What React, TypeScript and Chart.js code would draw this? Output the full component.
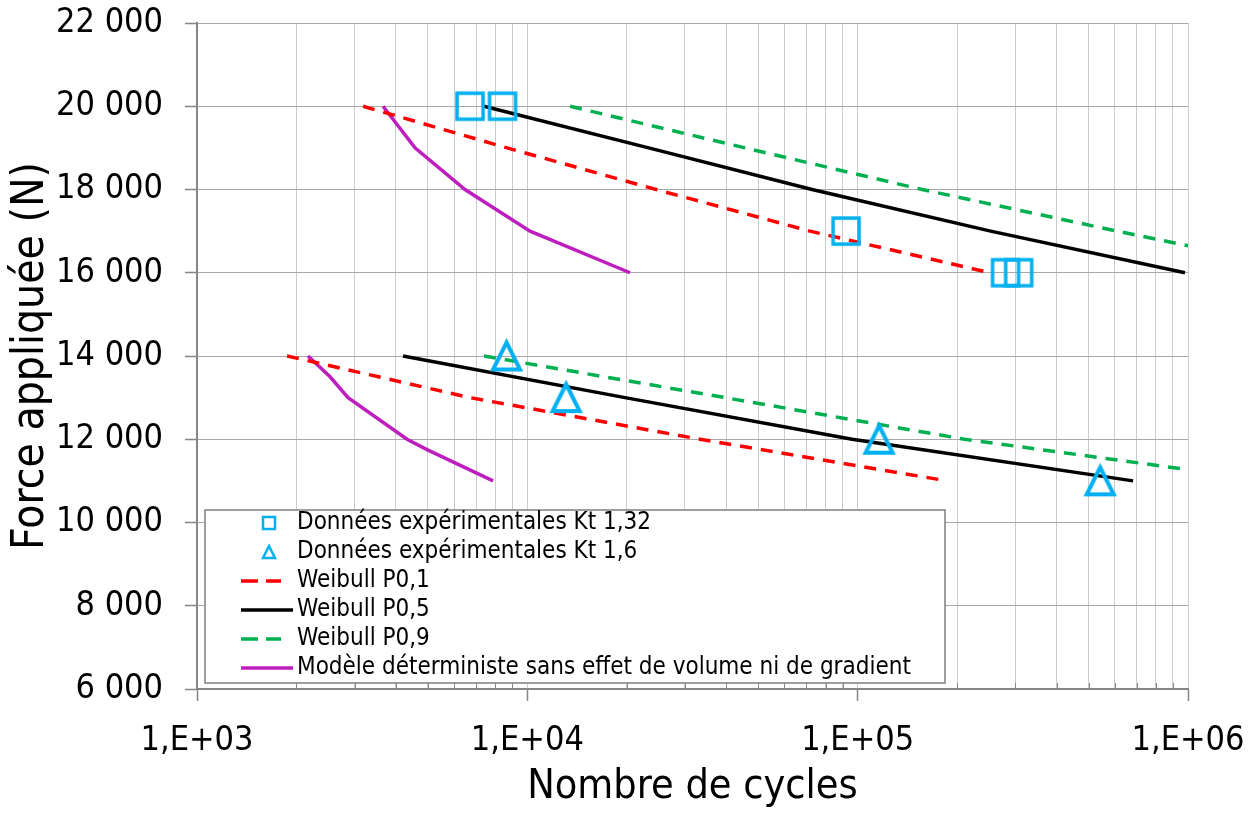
import { useEffect, useRef } from 'react';
import { Chart, registerables } from 'chart.js';

Chart.register(...registerables);

const FONT = '"DejaVu Sans Condensed", "DejaVu Sans", sans-serif';

// ---- Axis definitions ----
const xDecades = [1000, 10000, 100000, 1000000];
const xDecadeLabels = ['1,E+03', '1,E+04', '1,E+05', '1,E+06'];
const xMinorSteps = [1, 2, 3, 4, 5, 6, 7, 8, 9];
const yMin = 6000;
const yMax = 22000;
const yStep = 2000;

// ---- Experimental data ----
const kt132Cycles = [6707, 8414, 92230, 280300, 307100];
const kt132Force = [20000, 20000, 17000, 16000, 16000];
const kt16Cycles = [8650, 13100, 116100, 542000];
const kt16Force = [14000, 13000, 12000, 11000];

// ---- Weibull P0,1 ----
const p01UpperCycles = [3182, 8680, 24540, 71760, 251700];
const p01UpperForce = [20000, 19000, 18000, 17000, 16000];
const p01LowerCycles = [1873, 6706, 33340, 186500];
const p01LowerForce = [14000, 13000, 12000, 11000];

// ---- Weibull P0,5 ----
const p05UpperCycles = [7393, 23290, 72780, 252700, 979000];
const p05UpperForce = [20000, 19000, 18000, 17000, 16000];
const p05LowerCycles = [4204, 19760, 96200, 682000];
const p05LowerForce = [14000, 13000, 12000, 11000];

// ---- Weibull P0,9 ----
const p09UpperCycles = [13470, 45600, 156700, 610000, 1000000];
const p09UpperForce = [20000, 19000, 18000, 17000, 16650];
const p09LowerCycles = [7393, 39680, 210700, 1000000];
const p09LowerForce = [14000, 13000, 12000, 11270];

// ---- Deterministic model ----
const detUpperCycles = [3657, 4570, 6477, 10190, 20460];
const detUpperForce = [20000, 19000, 18000, 17000, 16000];
const detLowerCycles = [2168, 2528, 2866, 4323, 4970, 7875];
const detLowerForce = [14000, 13500, 13000, 12000, 11750, 11000];

const legendLabels = [
  'Données expérimentales Kt 1,32',
  'Données expérimentales Kt 1,6',
  'Weibull P0,1',
  'Weibull P0,5',
  'Weibull P0,9',
  'Modèle déterministe sans effet de volume ni de gradient',
];

const CYAN = '#00B0F0';
const RED = '#FF0000';
const BLACK = '#000000';
const GREEN = '#00B050';
const MAGENTA = '#BE1EBE';
const DASH = [12, 9];

const zip = (xs: number[], ys: number[]) => xs.map((x, i) => ({ x, y: ys[i] }));
const isDecade = (v: number) => xDecades.includes(v);
const formatThousands = (v: number) => String(v).replace(/\B(?=(\d{3})+(?!\d))/g, ' ');

function makeMarker(kind: 'square' | 'triangle', size: number, lw: number) {
  const c = document.createElement('canvas');
  const pad = Math.ceil(lw) + 2;
  c.width = size + pad * 2;
  c.height = size + pad * 2;
  const g = c.getContext('2d')!;
  g.strokeStyle = CYAN;
  g.lineWidth = lw;
  g.lineJoin = 'miter';
  if (kind === 'square') {
    g.strokeRect(pad, pad, size, size);
  } else {
    g.beginPath();
    g.moveTo(pad + size / 2, pad);
    g.lineTo(pad + size, pad + size);
    g.lineTo(pad, pad + size);
    g.closePath();
    g.stroke();
  }
  return c;
}

function lineDataset(label: string, xs: number[], ys: number[], color: string, dashed: boolean) {
  return {
    label,
    data: zip(xs, ys),
    showLine: true,
    borderColor: color,
    backgroundColor: color,
    borderWidth: 3.5,
    borderDash: dashed ? DASH : [],
    pointRadius: 0,
    pointHoverRadius: 0,
    tension: 0,
    fill: false,
  };
}

const legendPlugin = {
  id: 'boxLegend',
  afterDraw(chart: any) {
    const ctx = chart.ctx as CanvasRenderingContext2D;
    const { left, bottom } = chart.chartArea;
    const bx = left + 8;
    const by = bottom - 179;
    const bw = 740;
    const bh = 173;
    ctx.save();
    ctx.fillStyle = '#ffffff';
    ctx.fillRect(bx, by, bw, bh);
    ctx.strokeStyle = '#7f7f7f';
    ctx.lineWidth = 1.5;
    ctx.strokeRect(bx, by, bw, bh);

    const symX0 = bx + 36;
    const symX1 = bx + 88;
    const symCx = bx + 64;
    const textX = bx + 92;
    const rowY0 = by + 13;
    const rowStep = 29;
    const styles = [
      { kind: 'square' },
      { kind: 'triangle' },
      { kind: 'line', color: RED, dashed: true },
      { kind: 'line', color: BLACK, dashed: false },
      { kind: 'line', color: GREEN, dashed: true },
      { kind: 'line', color: MAGENTA, dashed: false },
    ];
    legendLabels.forEach((label, i) => {
      const y = rowY0 + i * rowStep;
      const st: any = styles[i];
      ctx.save();
      if (st.kind === 'square') {
        ctx.strokeStyle = CYAN;
        ctx.lineWidth = 2.5;
        ctx.strokeRect(symCx - 6, y - 6, 12, 12);
      } else if (st.kind === 'triangle') {
        ctx.strokeStyle = CYAN;
        ctx.lineWidth = 2.5;
        ctx.beginPath();
        ctx.moveTo(symCx, y - 6);
        ctx.lineTo(symCx + 6, y + 6);
        ctx.lineTo(symCx - 6, y + 6);
        ctx.closePath();
        ctx.stroke();
      } else {
        ctx.strokeStyle = st.color;
        ctx.lineWidth = 3.5;
        ctx.beginPath();
        if (st.dashed) {
          ctx.setLineDash([17, 8]);
          ctx.moveTo(symX0, y);
          ctx.lineTo(symX0 + 40, y);
        } else {
          ctx.moveTo(symX0, y);
          ctx.lineTo(symX1, y);
        }
        ctx.stroke();
      }
      ctx.restore();
      ctx.fillStyle = '#000000';
      ctx.font = `24px ${FONT}`;
      ctx.textBaseline = 'middle';
      ctx.textAlign = 'left';
      ctx.fillText(label, textX, y);
    });
    ctx.restore();
  },
};

const minorTickPlugin = {
  id: 'minorTicks',
  afterDatasetsDraw(chart: any) {
    const ctx = chart.ctx as CanvasRenderingContext2D;
    const xs = chart.scales.x;
    const b = chart.chartArea.bottom;
    ctx.save();
    ctx.strokeStyle = '#868686';
    ctx.lineWidth = 1;
    xs.ticks.forEach((t: any) => {
      if (isDecade(t.value)) return;
      const px = Math.round(xs.getPixelForValue(t.value)) + 0.5;
      ctx.beginPath();
      ctx.moveTo(px, b);
      ctx.lineTo(px, b - 6);
      ctx.stroke();
    });
    ctx.restore();
  },
};

export default function App() {
  const ref = useRef<HTMLCanvasElement | null>(null);

  useEffect(() => {
    if (!ref.current) return;
    const squareMarker = makeMarker('square', 26, 3.5);
    const triangleMarker = makeMarker('triangle', 27, 4);
    const xTickValues = xDecades.flatMap((d, i) =>
      i < xDecades.length - 1 ? xMinorSteps.map((m) => m * d) : [d]
    );

    const chart = new Chart(ref.current, {
      type: 'scatter',
      data: {
        datasets: [
          {
            label: legendLabels[0],
            data: zip(kt132Cycles, kt132Force),
            showLine: false,
            pointStyle: squareMarker as any,
            pointRadius: 14,
            borderColor: CYAN,
            backgroundColor: 'transparent',
          },
          {
            label: legendLabels[1],
            data: zip(kt16Cycles, kt16Force),
            showLine: false,
            pointStyle: triangleMarker as any,
            pointRadius: 14,
            borderColor: CYAN,
            backgroundColor: 'transparent',
          },
          lineDataset(legendLabels[2], p01UpperCycles, p01UpperForce, RED, true),
          lineDataset(legendLabels[2], p01LowerCycles, p01LowerForce, RED, true),
          lineDataset(legendLabels[3], p05UpperCycles, p05UpperForce, BLACK, false),
          lineDataset(legendLabels[3], p05LowerCycles, p05LowerForce, BLACK, false),
          lineDataset(legendLabels[4], p09UpperCycles, p09UpperForce, GREEN, true),
          lineDataset(legendLabels[4], p09LowerCycles, p09LowerForce, GREEN, true),
          lineDataset(legendLabels[5], detUpperCycles, detUpperForce, MAGENTA, false),
          lineDataset(legendLabels[5], detLowerCycles, detLowerForce, MAGENTA, false),
        ] as any,
      },
      options: {
        responsive: false,
        animation: false,
        events: [],
        layout: { padding: { left: 0, top: 23, right: 70, bottom: 0 } },
        plugins: {
          legend: { display: false },
          tooltip: { enabled: false },
        },
        scales: {
          x: {
            type: 'logarithmic',
            position: 'bottom',
            min: xDecades[0],
            max: xDecades[xDecades.length - 1],
            afterFit: (s: any) => {
              s.height = 124;
              s.paddingLeft = 0;
              s.paddingRight = 0;
            },
            afterBuildTicks: (s: any) => {
              s.ticks = xTickValues.map((v) => ({ value: v, major: isDecade(v) }));
            },
            ticks: {
              autoSkip: false,
              maxRotation: 0,
              minRotation: 0,
              padding: 20,
              color: '#000000',
              font: { family: FONT, size: 34 },
              callback: (v: any) => {
                const i = xDecades.indexOf(Number(v));
                return i >= 0 ? xDecadeLabels[i] : '';
              },
            },
            grid: {
              color: '#cccccc',
              lineWidth: 1,
              tickLength: 12,
              tickWidth: 1.5,
              tickColor: (c: any) => (c.tick && isDecade(c.tick.value) ? '#868686' : 'rgba(0,0,0,0)'),
            },
            border: { color: '#868686', width: 2 },
            title: {
              display: true,
              text: 'Nombre de cycles',
              color: '#000000',
              font: { family: FONT, size: 41 },
              padding: { top: 0, bottom: 1 },
            },
          },
          y: {
            type: 'linear',
            min: yMin,
            max: yMax,
            afterFit: (s: any) => {
              s.width = 197;
              s.paddingTop = 0;
              s.paddingBottom = 0;
            },
            ticks: {
              stepSize: yStep,
              padding: 22,
              color: '#000000',
              font: { family: FONT, size: 34 },
              callback: (v: any) => formatThousands(Number(v)),
            },
            grid: {
              color: '#a8a8a8',
              lineWidth: 1,
              tickLength: 12,
              tickWidth: 1.5,
              tickColor: '#868686',
            },
            border: { color: '#868686', width: 2 },
            title: {
              display: true,
              text: 'Force appliquée (N)',
              color: '#000000',
              font: { family: FONT, size: 44 },
              padding: { top: 5, bottom: 0 },
            },
          },
        },
      } as any,
      plugins: [minorTickPlugin, legendPlugin],
    });
    return () => chart.destroy();
  }, []);

  return (
    <div style={{ position: 'absolute', left: 0, top: 0, width: 1258, height: 813, background: '#fff' }}>
      <canvas ref={ref} width={1258} height={813} style={{ display: 'block' }} />
    </div>
  );
}
